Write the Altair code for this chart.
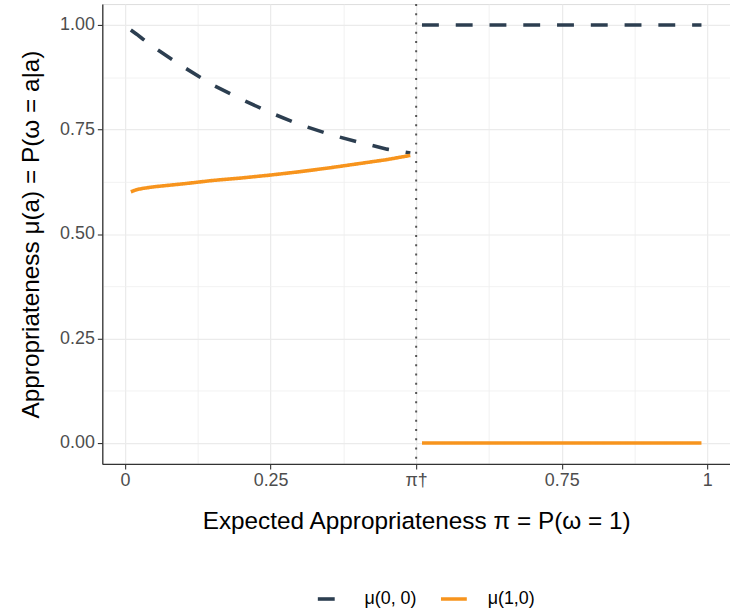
import altair as alt
import pandas as pd

# --- data ---
pi_left = [0.01, 0.02, 0.03, 0.05, 0.10, 0.15, 0.20, 0.25, 0.30, 0.35, 0.40, 0.45, 0.49]
mu00_left = [0.988, 0.978, 0.967, 0.946, 0.900, 0.857, 0.822, 0.790, 0.762, 0.739, 0.720, 0.703, 0.694]
mu10_left = [0.601, 0.606, 0.609, 0.613, 0.620, 0.628, 0.634, 0.641, 0.649, 0.658, 0.668, 0.678, 0.688]
pi_right = [0.51, 0.99]
mu00_right = [1.0, 1.0]
mu10_right = [0.0, 0.0]
pi_dagger = 0.5

series_names = ["μ(0, 0)", "μ(1,0)"]
series_colors = ["#2C3E50", "#F7941D"]
x_ticks = [0, 0.25, 0.5, 0.75, 1]
y_ticks = [0, 0.25, 0.5, 0.75, 1]
x_minor = [0.125, 0.375, 0.625, 0.875]
y_minor = [0.125, 0.375, 0.625, 0.875]

rows = []
for p, v in zip(pi_left, mu00_left):
    rows.append({"pi": p, "mu": v, "series": series_names[0], "seg": "00L"})
for p, v in zip(pi_right, mu00_right):
    rows.append({"pi": p, "mu": v, "series": series_names[0], "seg": "00R"})
for p, v in zip(pi_left, mu10_left):
    rows.append({"pi": p, "mu": v, "series": series_names[1], "seg": "10L"})
for p, v in zip(pi_right, mu10_right):
    rows.append({"pi": p, "mu": v, "series": series_names[1], "seg": "10R"})
df = pd.DataFrame(rows)

FONT = "Liberation Sans"
xdom = [-0.039, 1.039]
ydom = [-0.05, 1.05]

x_scale = alt.Scale(domain=xdom, nice=False, zero=False)
y_scale = alt.Scale(domain=ydom, nice=False, zero=False)

label_expr = ("datum.value == 0.5 ? 'π†' : (datum.value == 0 ? '0' : "
              "(datum.value == 1 ? '1' : format(datum.value, '.2f')))")

common_axis = dict(grid=True, gridColor="#EBEBEB", gridWidth=1.2,
                   tickColor="#333333", tickSize=5, tickWidth=1.1,
                   labelFontSize=18, labelColor="#4D4D4D", labelFont=FONT,
                   labelPadding=3,
                   titleFontSize=24.5, titleFont=FONT, titleFontWeight="normal",
                   titleColor="#000000",
                   domain=True, domainColor="#333333", domainWidth=1.3)

lines = alt.Chart(df).mark_line(strokeWidth=3.6, strokeCap="butt").encode(
    x=alt.X("pi:Q", scale=x_scale,
            axis=alt.Axis(orient="bottom", values=x_ticks, labelExpr=label_expr,
                          title="Expected Appropriateness π = P(ω = 1)",
                          titlePadding=20, **common_axis)),
    y=alt.Y("mu:Q", scale=y_scale,
            axis=alt.Axis(orient="left", values=y_ticks, format=".2f",
                          title="Appropriateness μ(a) = P(ω = a|a)",
                          titlePadding=16, **common_axis)),
    color=alt.Color("series:N",
                    scale=alt.Scale(domain=series_names, range=series_colors),
                    legend=alt.Legend(title=None, orient="none", direction="horizontal",
                                      legendX=215, legendY=584,
                                      symbolType="stroke", symbolStrokeWidth=3.6,
                                      symbolSize=676, labelFontSize=18, labelFont=FONT,
                                      labelColor="#000000", labelOffset=19,
                                      columnPadding=16)),
    strokeDash=alt.StrokeDash("series:N",
                              scale=alt.Scale(domain=series_names, range=[[17, 17], [1, 0]]),
                              legend=None),
    detail="seg:N",
)

minor_grid = alt.Chart(df).mark_point(opacity=0).encode(
    x=alt.X("pi:Q", scale=x_scale,
            axis=alt.Axis(orient="bottom", values=x_minor, grid=True, gridColor="#EEEEEE",
                          gridWidth=0.8, labels=False, ticks=False, domain=False, title=None)),
    y=alt.Y("mu:Q", scale=y_scale,
            axis=alt.Axis(orient="left", values=y_minor, grid=True, gridColor="#EEEEEE",
                          gridWidth=0.8, labels=False, ticks=False, domain=False, title=None)),
)

vline = alt.Chart(pd.DataFrame({"pi": [pi_dagger]})).mark_rule(
    color="#555555", strokeWidth=2, strokeDash=[2, 7.3], strokeCap="butt"
).encode(x=alt.X("pi:Q", scale=x_scale, axis=None))

chart = alt.layer(lines, minor_grid, vline).resolve_axis(
    x="independent", y="independent"
).properties(
    width=632, height=463,
    autosize=alt.AutoSizeParams(type="none"),
    padding={"left": 103, "top": 2, "right": 0, "bottom": 150},
).configure_view(
    stroke="#333333", strokeWidth=1.3
).configure(background="white")

chart.save("out.html", embed_options={"renderer": "svg", "actions": False})
